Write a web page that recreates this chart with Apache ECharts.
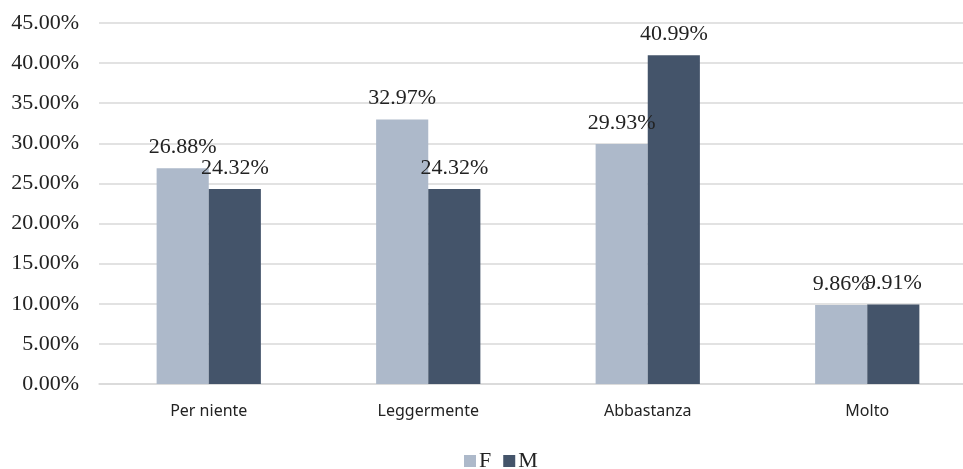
<!DOCTYPE html>
<html>
<head>
<meta charset="utf-8">
<script src="https://cdn.jsdelivr.net/npm/echarts@6/dist/echarts.min.js"></script>
<style>
  html, body { margin: 0; padding: 0; background: #fff; }
  #chart { width: 963px; height: 469px; }
</style>
</head>
<body>
<div id="chart"></div>
<script>
// Response categories and percentage shares by gender
const categories = ['Per niente', 'Leggermente', 'Abbastanza', 'Molto'];
const valuesF = [26.88, 32.97, 29.93, 9.86];
const valuesM = [24.32, 24.32, 40.99, 9.91];
const seriesNames = ['F', 'M'];

const serif = '"Liberation Serif", "Times New Roman", serif';
const pct = v => v.toFixed(2) + '%';

const chart = echarts.init(document.getElementById('chart'));

const labelStyle = {
  show: true,
  position: 'top',
  distance: 10,
  fontFamily: serif,
  fontSize: 22,
  color: '#222',
  formatter: p => pct(p.value)
};

chart.setOption({
  animation: false,
  grid: {
    left: 99, top: 23, width: 878, height: 361,
    containLabel: false,
    outerBoundsMode: 'none'
  },
  legend: {
    data: seriesNames,
    top: 450,
    left: 464,
    padding: 0,
    itemWidth: 12,
    itemHeight: 12,
    itemGap: 12,
    icon: 'rect',
    textStyle: { fontFamily: serif, fontSize: 22, color: '#222', padding: [0, 0, 0, -2] }
  },
  xAxis: {
    type: 'category',
    data: categories,
    axisTick: { show: false },
    axisLine: { lineStyle: { color: '#d9d9d9', width: 1.5 } },
    axisLabel: { margin: 19, fontFamily: '"Noto Sans", "Open Sans", sans-serif', fontSize: 16, color: '#222' }
  },
  yAxis: {
    type: 'value',
    min: 0,
    max: 45,
    interval: 5,
    axisLine: { show: false },
    axisTick: { show: false },
    splitLine: { lineStyle: { color: '#d9d9d9', width: 1.5 } },
    axisLabel: { margin: 20, fontFamily: serif, fontSize: 22, color: '#222', formatter: v => pct(v) }
  },
  series: [
    {
      name: seriesNames[0],
      type: 'bar',
      data: valuesF,
      barGap: '0%',
      barCategoryGap: '52.5%',
      itemStyle: { color: '#adb9ca' },
      label: labelStyle
    },
    {
      name: seriesNames[1],
      type: 'bar',
      data: valuesM,
      itemStyle: { color: '#44546a' },
      label: labelStyle
    }
  ]
});
</script>
</body>
</html>
